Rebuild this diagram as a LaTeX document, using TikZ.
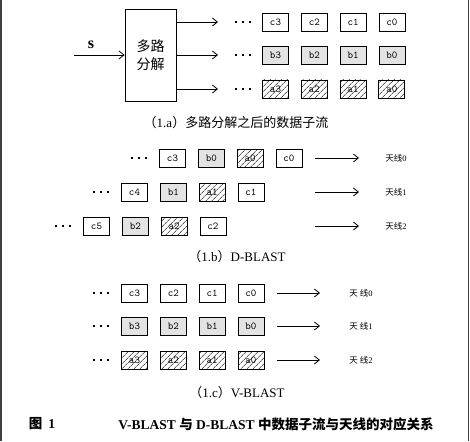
\documentclass[tikz,border=0pt]{standalone}
\usepackage{fontspec}
\setmainfont{Liberation Serif}
\newfontfamily\cjk{Noto Sans CJK SC}
\usetikzlibrary{arrows.meta,positioning,patterns.meta}
\tikzset{
  blk/.style  = {draw, line width=0.8pt, minimum width=26pt, minimum height=18pt,
                 inner sep=0pt, font=\ttfamily\fontsize{10.5}{11}\selectfont},
  blkg/.style = {blk, fill=black!11},
  blkh/.style = {blk, pattern={Lines[angle=45,distance=4pt,line width=0.6pt]}},
  outarr/.style = {black, line width=0.8pt, -{Straight Barb[length=5pt,width=8pt]}},
  antlbl/.style = {font=\cjk\fontsize{8.5}{9}\selectfont},
  caplbl/.style = {font=\fontsize{13}{14}\selectfont},
}
\newcommand{\ddd}{\rule{1.8pt}{1.8pt}\hspace{5.5pt}\rule{1.8pt}{1.8pt}\hspace{5.5pt}\rule{1.8pt}{1.8pt}}

\begin{document}
\begin{tikzpicture}[x=1pt,y=-1pt]
      \useasboundingbox (0,0) rectangle (470,441);
      \draw[black!75, line width=1.5pt] (0.75,0) -- (0.75,441);
      \draw[black!75, line width=1.5pt] (468.5,0) -- (468.5,441);

      % (1.a)
      \node[draw, line width=0.8pt, minimum width=51pt, minimum height=92pt, align=center,
            font=\cjk\fontsize{14}{18}\selectfont] (demux) at (150.5,55) {多路\\分解};
      \coordinate (sin) at (74,55);
      \node[font=\fontsize{16}{16}\selectfont\bfseries] (s) at (91,45) {s};
      \draw[outarr] (sin) -- (demux);
      \coordinate (oc) at (218,22);
      \coordinate (ob) at (218,55);
      \coordinate (oa) at (218,89);
      \draw[outarr] (demux.east |- oc) -- (oc);
      \draw[outarr] (demux.east |- ob) -- (ob);
      \draw[outarr] (demux.east |- oa) -- (oa);
      \node (mdc) at (243,22) {\ddd};
      \node (mdb) at (243,55) {\ddd};
      \node (mda) at (243,89) {\ddd};
      \node[blk] (mc3) at (275.5,22) {c3};
      \node[blk, right=12pt of mc3] (mc2) {c2};
      \node[blk, right=12pt of mc2] (mc1) {c1};
      \node[blk, right=12pt of mc1] (mc0) {c0};
      \node[blkg] (mb3) at (275.5,55) {b3};
      \node[blkg, right=12pt of mb3] (mb2) {b2};
      \node[blkg, right=12pt of mb2] (mb1) {b1};
      \node[blkg, right=12pt of mb1] (mb0) {b0};
      \node[blkh] (ma3) at (275.5,89) {a3};
      \node[blkh, right=12pt of ma3] (ma2) {a2};
      \node[blkh, right=12pt of ma2] (ma1) {a1};
      \node[blkh, right=12pt of ma1] (ma0) {a0};
      \node[caplbl] (capa) at (236,123) {{\cjk （}1.a{\cjk ）多路分解之后的数据子流}};

      % (1.b) D-BLAST
      \node (ddd0) at (139,158) {\ddd};
      \node[blk] (dc3) at (172.5,158) {c3};
      \node[blkg, right=12pt of dc3] (db0) {b0};
      \node[blkh, right=12pt of db0] (da0) {a0};
      \node[blk, right=12pt of da0] (dc0) {c0};
      \node (ddd1) at (101,192) {\ddd};
      \node[blk] (dc4) at (134.5,192) {c4};
      \node[blkg, right=12pt of dc4] (db1) {b1};
      \node[blkh, right=12pt of db1] (da1) {a1};
      \node[blk, right=12pt of da1] (dc1) {c1};
      \node (ddd2) at (63,226) {\ddd};
      \node[blk] (dc5) at (96.5,226) {c5};
      \node[blkg, right=12pt of dc5] (db2) {b2};
      \node[blkh, right=12pt of db2] (da2) {a2};
      \node[blk, right=12pt of da2] (dc2) {c2};
      \coordinate (ds0) at (315,158);
      \coordinate (dt0) at (359,158);
      \coordinate (ds1) at (315,192);
      \coordinate (dt1) at (359,192);
      \coordinate (ds2) at (315,226);
      \coordinate (dt2) at (359,226);
      \draw[outarr] (ds0) -- (dt0);
      \draw[outarr] (ds1) -- (dt1);
      \draw[outarr] (ds2) -- (dt2);
      \node[antlbl] (dant0) at (396,158) {天线\rmfamily 0};
      \node[antlbl] (dant1) at (396,192) {天线\rmfamily 1};
      \node[antlbl] (dant2) at (396,226) {天线\rmfamily 2};
      \node[caplbl] (capb) at (237,257) {{\cjk （}1.b{\cjk ）}D-BLAST};

      % (1.c) V-BLAST
      \node (vdc) at (101,293) {\ddd};
      \node (vdb) at (101,326) {\ddd};
      \node (vda) at (101,360) {\ddd};
      \node[blk] (vc3) at (134.5,293) {c3};
      \node[blk, right=12pt of vc3] (vc2) {c2};
      \node[blk, right=12pt of vc2] (vc1) {c1};
      \node[blk, right=12pt of vc1] (vc0) {c0};
      \node[blkg] (vb3) at (134.5,326) {b3};
      \node[blkg, right=12pt of vb3] (vb2) {b2};
      \node[blkg, right=12pt of vb2] (vb1) {b1};
      \node[blkg, right=12pt of vb1] (vb0) {b0};
      \node[blkh] (va3) at (134.5,360) {a3};
      \node[blkh, right=12pt of va3] (va2) {a2};
      \node[blkh, right=12pt of va2] (va1) {a1};
      \node[blkh, right=12pt of va1] (va0) {a0};
      \coordinate (vs0) at (277,293);
      \coordinate (vt0) at (320,293);
      \coordinate (vs1) at (277,326);
      \coordinate (vt1) at (320,326);
      \coordinate (vs2) at (277,360);
      \coordinate (vt2) at (320,360);
      \draw[outarr] (vs0) -- (vt0);
      \draw[outarr] (vs1) -- (vt1);
      \draw[outarr] (vs2) -- (vt2);
      \node[antlbl] (vant0) at (361,293) {天\hspace{2pt}线\rmfamily 0};
      \node[antlbl] (vant1) at (361,326) {天\hspace{2pt}线\rmfamily 1};
      \node[antlbl] (vant2) at (361,360) {天\hspace{2pt}线\rmfamily 2};
      \node[caplbl] (capc) at (237,393) {{\cjk （}1.c{\cjk ）}V-BLAST};

      % figure caption
      \node[font=\fontsize{13.5}{14}\selectfont\bfseries] (fig) at (42,424) {{\cjk 图}\hspace{6pt}1};
      \node[font=\fontsize{13.5}{14}\selectfont\bfseries] (figcap) at (276,424)
        {V-BLAST {\cjk 与} D-BLAST {\cjk 中数据子流与天线的对应关系}};
\end{tikzpicture}
\end{document}
